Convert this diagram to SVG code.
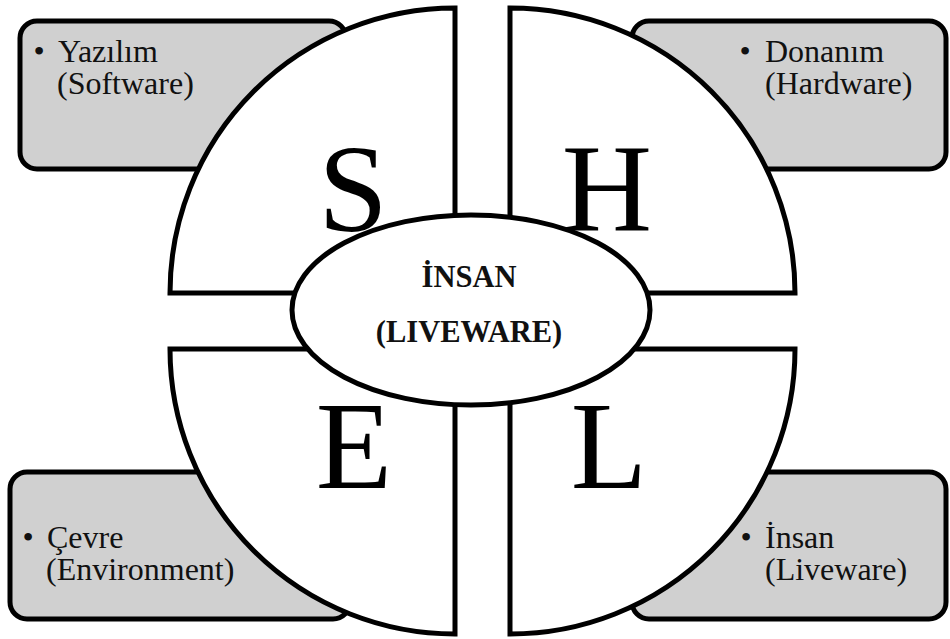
<svg xmlns="http://www.w3.org/2000/svg" width="950" height="639" viewBox="0 0 950 639">
  <style>
    .box { fill: #d0d0d0; stroke: #000; stroke-width: 5; }
    .quad { fill: #fff; stroke: #000; stroke-width: 5; stroke-linejoin: miter; }
    .hub { fill: #fff; stroke: #000; stroke-width: 5; }
    .item { font-family: "Liberation Serif", "Times New Roman", serif; font-size: 32px; fill: #111; }
    .dot { font-family: "Liberation Serif", "Times New Roman", serif; font-size: 32px; fill: #111; text-anchor: middle; }
    .big { font-family: "Liberation Serif", "Times New Roman", serif; font-size: 125px; fill: #000; text-anchor: middle; }
    .hubtext { font-family: "Liberation Serif", "Times New Roman", serif; font-size: 30.5px; font-weight: bold; fill: #111; text-anchor: middle; }
  </style>

  <!-- grey description cards at the four corners -->
  <g id="card-software">
    <rect class="box" x="20" y="21" width="326" height="148" rx="17"/>
    <text class="dot" x="39" y="62">•</text>
    <text class="item"><tspan x="58" y="62">Yazılım</tspan><tspan x="57" y="94">(Software)</tspan></text>
  </g>
  <g id="card-hardware">
    <rect class="box" x="632" y="21" width="314" height="148" rx="17"/>
    <text class="dot" x="745" y="62">•</text>
    <text class="item"><tspan x="765" y="62">Donanım</tspan><tspan x="765" y="94">(Hardware)</tspan></text>
  </g>
  <g id="card-environment">
    <rect class="box" x="10" y="472" width="340" height="147" rx="17"/>
    <text class="dot" x="28" y="548">•</text>
    <text class="item"><tspan x="47" y="548">Çevre</tspan><tspan x="46" y="580">(Environment)</tspan></text>
  </g>
  <g id="card-liveware">
    <rect class="box" x="632" y="472" width="314" height="147" rx="17"/>
    <text class="dot" x="746" y="548">•</text>
    <text class="item"><tspan x="765" y="548">İnsan</tspan><tspan x="765" y="580">(Liveware)</tspan></text>
  </g>

  <!-- quarter-circle segments -->
  <g id="segment-S">
    <path class="quad" d="M455,293 L170,293 A285,285 0 0 1 455,8 Z"/>
    <text class="big" x="353" y="231">S</text>
  </g>
  <g id="segment-H">
    <path class="quad" d="M510,293 L510,8 A285,285 0 0 1 795,293 Z"/>
    <text class="big" x="607" y="230">H</text>
  </g>
  <g id="segment-E">
    <path class="quad" d="M455,349 L170,349 A285,285 0 0 0 455,634 Z"/>
    <text class="big" x="354" y="488">E</text>
  </g>
  <g id="segment-L">
    <path class="quad" d="M510,349 L795,349 A285,285 0 0 1 510,634 Z"/>
    <text class="big" x="609" y="488">L</text>
  </g>

  <!-- central hub -->
  <g id="hub-liveware">
    <ellipse class="hub" cx="471" cy="310" rx="179" ry="95"/>
    <text class="hubtext"><tspan x="469" y="287">İNSAN</tspan><tspan x="469" y="342">(LIVEWARE)</tspan></text>
  </g>

  <g id="connectors"></g>
</svg>
